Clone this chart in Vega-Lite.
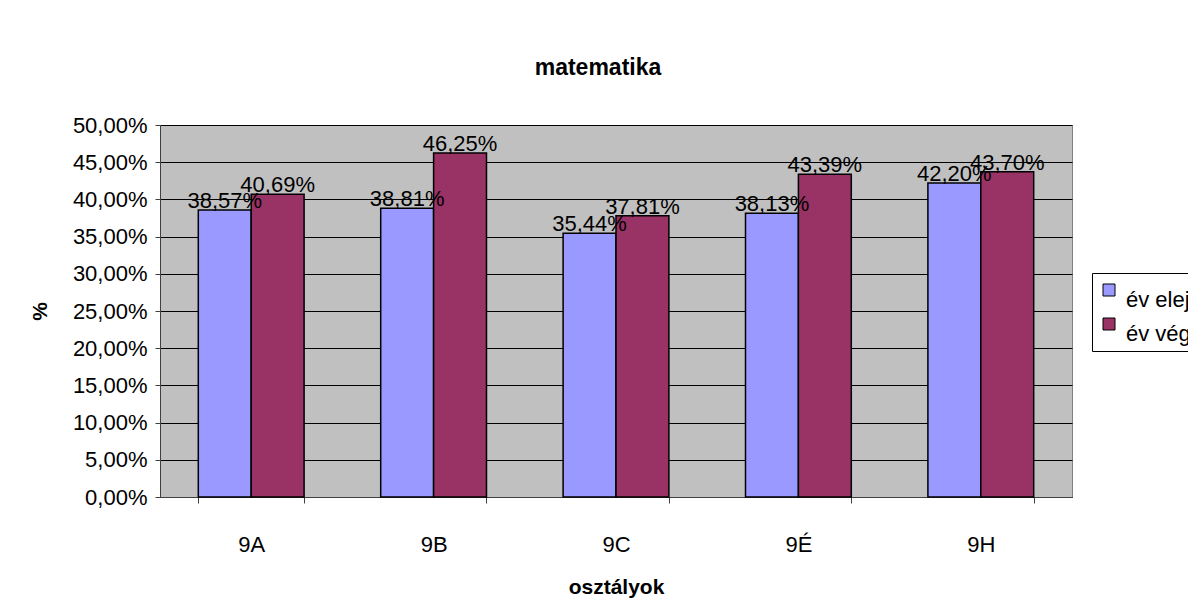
{
  "$schema": "https://vega.github.io/schema/vega-lite/v6.json",
  "autosize": {"type": "none"},
  "width": 912,
  "height": 372,
  "padding": {"left": 160, "top": 125, "right": 116, "bottom": 109},
  "background": "white",
  "config": {
    "font": "Liberation Sans",
    "locale": {"number": {"decimal": ",", "thousands": " ", "grouping": [3], "currency": ["", " Ft"]}},
    "view": {"fill": "#C0C0C0", "stroke": "#808080", "strokeWidth": 1}
  },
  "title": {
    "text": "matematika",
    "font": "Liberation Sans",
    "fontSize": 23,
    "fontWeight": "bold",
    "color": "black",
    "anchor": "middle",
    "frame": "group",
    "dx": -18,
    "baseline": "alphabetic",
    "offset": 16
  },
  "data": {
    "values": [
      {"class": "9A", "series": "év eleje", "value": 0.3857},
      {"class": "9A", "series": "év vége", "value": 0.4069},
      {"class": "9B", "series": "év eleje", "value": 0.3881},
      {"class": "9B", "series": "év vége", "value": 0.4625},
      {"class": "9C", "series": "év eleje", "value": 0.3544},
      {"class": "9C", "series": "év vége", "value": 0.3781},
      {"class": "9É", "series": "év eleje", "value": 0.3813},
      {"class": "9É", "series": "év vége", "value": 0.4339},
      {"class": "9H", "series": "év eleje", "value": 0.4220},
      {"class": "9H", "series": "év vége", "value": 0.4370}
    ]
  },
  "encoding": {
    "x": {
      "field": "class",
      "type": "nominal",
      "sort": ["9A", "9B", "9C", "9É", "9H"],
      "scale": {"paddingInner": 0.42, "paddingOuter": 0.21},
      "axis": {
        "title": "osztályok",
        "titleFont": "Liberation Sans",
        "titleFontSize": 21,
        "titleFontWeight": "bold",
        "titleColor": "black",
        "titlePadding": 21,
        "labelFontSize": 22,
        "labelColor": "black",
        "labelAngle": 0,
        "labelBaseline": "top",
        "labelPadding": 31,
        "tickBand": "extent",
        "tickSize": 6,
        "tickColor": "#404040",
        "domainColor": "#404040",
        "grid": false
      }
    },
    "xOffset": {
      "field": "series",
      "type": "nominal",
      "sort": ["év eleje", "év vége"],
      "scale": {"paddingInner": 0, "paddingOuter": 0}
    },
    "y": {
      "field": "value",
      "type": "quantitative",
      "scale": {"domain": [0, 0.5], "nice": false},
      "axis": {
        "title": "%",
        "titleFont": "Liberation Sans",
        "titleFontSize": 21,
        "titleFontWeight": "bold",
        "titleColor": "black",
        "titlePadding": 22,
        "values": [0, 0.05, 0.1, 0.15, 0.2, 0.25, 0.3, 0.35, 0.4, 0.45, 0.5],
        "format": ".2%",
        "labelFontSize": 22,
        "labelColor": "black",
        "labelPadding": 8,
        "tickSize": 5,
        "tickColor": "#404040",
        "domainColor": "#404040",
        "grid": true,
        "gridColor": "black",
        "gridOpacity": 1,
        "gridWidth": 1
      }
    }
  },
  "layer": [
    {
      "mark": {"type": "bar", "stroke": "black", "strokeWidth": 1.5},
      "encoding": {
        "color": {
          "field": "series",
          "type": "nominal",
          "sort": ["év eleje", "év vége"],
          "scale": {"domain": ["év eleje", "év vége"], "range": ["#9999FF", "#993366"]},
          "legend": {
            "title": null,
            "orient": "none",
            "legendX": 932,
            "legendY": 148,
            "strokeColor": "black",
            "padding": 6,
            "symbolType": "square",
            "symbolSize": 144,
            "symbolStrokeColor": "black",
            "symbolStrokeWidth": 1,
            "symbolOpacity": 1,
            "labelFont": "Liberation Sans",
            "labelFontSize": 22,
            "labelColor": "black",
            "labelBaseline": "top",
            "labelOffset": 6,
            "rowPadding": 2,
            "labelLimit": 0
          }
        }
      }
    },
    {
      "mark": {"type": "text", "baseline": "alphabetic", "dy": -2, "fontSize": 22, "color": "black", "font": "Liberation Sans"},
      "encoding": {
        "text": {"field": "value", "type": "quantitative", "format": ".2%"}
      }
    }
  ]
}
